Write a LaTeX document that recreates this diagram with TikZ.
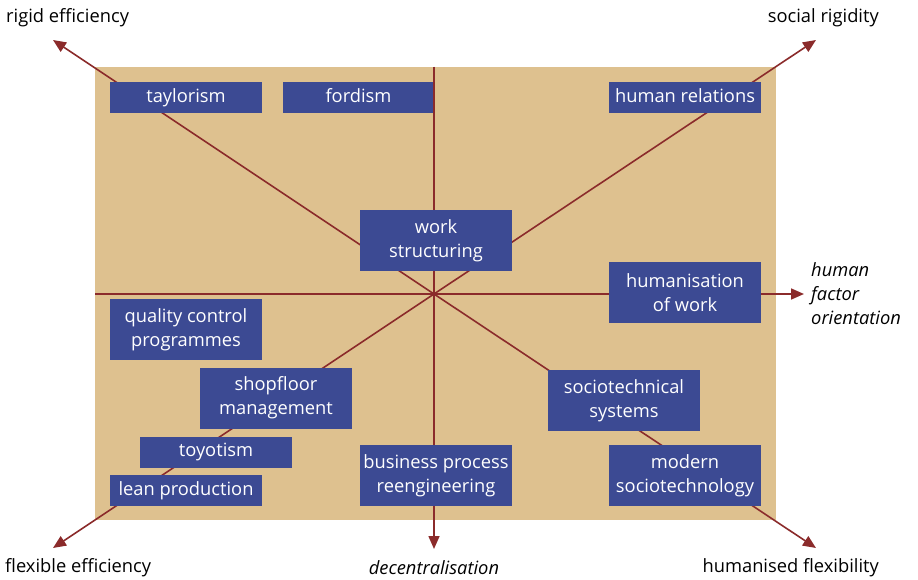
\documentclass[tikz,border=0pt]{standalone}
\usepackage{fontspec}
\setmainfont{Open Sans}
\usetikzlibrary{arrows.meta}
\definecolor{tan}{HTML}{DEC18F}
\definecolor{boxblue}{HTML}{3C4A93}
\definecolor{axisred}{HTML}{8B2B2B}
\newcommand{\onestrut}{\rule[-4.5pt]{0pt}{17pt}}
\tikzset{
  axis/.style={draw=axisred, line width=1.6pt},
  axisarrow/.style={axis, -{Triangle[length=13pt,width=11pt]}},
  bluebox/.style={fill=boxblue, text=white, minimum width=152pt, inner sep=0pt,
    align=center, font=\fontsize{18.3}{24}\selectfont},
  onerow/.style={bluebox, minimum height=31pt},
  tworow/.style={bluebox, minimum height=61pt},
  pole/.style={font=\fontsize{18.3}{24}\selectfont, text=black, inner sep=0pt},
}
\begin{document}
\begin{tikzpicture}[x=1pt,y=-1pt]
\useasboundingbox (0,0) rectangle (918,580);
\fill[tan] (95,67) rectangle (776,520);
% axes
\coordinate (c) at (434,294);
\coordinate (top) at (434,67);
\coordinate (left) at (95,294);
\coordinate (tl) at (53,40);
\coordinate (tr) at (816,40);
\coordinate (bl) at (53,548);
\coordinate (br) at (816,548);
\coordinate (down) at (434,549);
\coordinate (right) at (804,294);
\draw[axis] (top) -- (c);
\draw[axis] (left) -- (c);
\draw[axisarrow] (c) -- (tl);
\draw[axisarrow] (c) -- (tr);
\draw[axisarrow] (c) -- (bl);
\draw[axisarrow] (c) -- (br);
\draw[axisarrow] (c) -- (down);
\draw[axisarrow] (c) -- (right);
% boxes
\node[onerow] (taylor) at (186,97.5) {\onestrut taylorism};
\node[onerow] (ford) at (358.5,97.5) {\onestrut fordism};
\node[onerow] (hr) at (685,97.5) {\onestrut human relations};
\node[tworow] (ws) at (436,240.5) {work\\structuring};
\node[tworow] (hw) at (685,292.5) {humanisation\\of work};
\node[tworow] (qc) at (186,329.5) {quality control\\programmes};
\node[tworow] (sm) at (276,398) {shopfloor\\management};
\node[onerow] (toy) at (216,452.5) {\onestrut toyotism};
\node[onerow] (lean) at (186,490.5) {\onestrut lean production};
\node[tworow] (bpr) at (436,475.5) {business process\\reengineering};
\node[tworow] (sts) at (624,400.5) {sociotechnical\\systems};
\node[tworow] (ms) at (685,475.5) {modern\\sociotechnology};
\draw[axis] (top) -- (ford.south east -| top);
% pole labels
\node[pole, anchor=west] (p1) at (6,18) {rigid efficiency};
\node[pole, anchor=east] (p2) at (879,18) {social rigidity};
\node[pole, anchor=west] (p3) at (5,568) {flexible efficiency};
\node[pole, anchor=center] (p4) at (434,568) {\itshape decentralisation};
\node[pole, anchor=east] (p5) at (879,568) {humanised flexibility};
\node[pole, anchor=west, align=left] (p6) at (811,294) {\itshape human\\\itshape factor\\\itshape orientation};
\end{tikzpicture}
\end{document}
